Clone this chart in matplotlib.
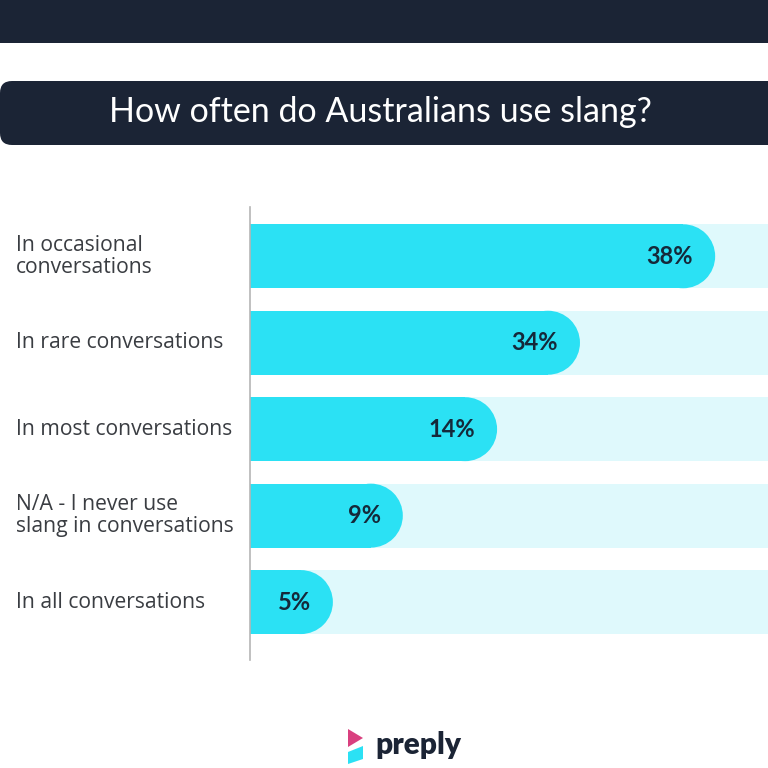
import matplotlib
matplotlib.use("Agg")
import matplotlib.pyplot as plt
from matplotlib.patches import FancyBboxPatch, Rectangle, Polygon, Ellipse
from matplotlib.transforms import blended_transform_factory

# ---- data ----
title = "How often do Australians use slang?"
categories = [
    "In occasional\nconversations",
    "In rare conversations",
    "In most conversations",
    "N/A - I never use\nslang in conversations",
    "In all conversations",
]
values = [38, 34, 14, 9, 5]
# displayed bar length (% of the bar track)
bar_lengths = [89.8, 63.7, 47.7, 29.5, 16.0]
value_labels = [f"{v}%" for v in values]

# ---- style ----
NAVY = "#1b2435"
CYAN = "#2be1f4"
LIGHT = "#dff9fc"
TXT = "#3a3d42"
VAL = "#15293a"
FONT = "Lato"
LFONT = "Open Sans"

W = H = 768
fig = plt.figure(figsize=(W / 100, H / 100), dpi=100)
fig.patch.set_facecolor("white")

def fx(px):
    return px / W

def fy(py):
    return 1 - py / H

# top band
fig.patches.append(Rectangle((0, fy(43)), 1, 43 / H, transform=fig.transFigure,
                             facecolor=NAVY, edgecolor="none", zorder=0))
# title box
fig.patches.append(FancyBboxPatch((fx(0), fy(145)), fx(820), 64 / H,
                                  boxstyle=f"round,pad=0,rounding_size={12 / W}",
                                  transform=fig.transFigure, facecolor=NAVY,
                                  edgecolor="none", zorder=0))
fig.text(fx(380), fy(112), title, color="white", fontsize=24.5, family=FONT,
         ha="center", va="center")

# axes for bars
ax = fig.add_axes([fx(250), fy(660), fx(768) - fx(250), (660 - 207) / H])
n = len(categories)
ax.set_xlim(0, 100)
ax.set_ylim(n - 1 + 0.67, -0.57)
ax.set_facecolor("none")
for s in ["top", "right", "bottom"]:
    ax.spines[s].set_visible(False)
ax.spines["left"].set_color("#b5b5b5")
ax.spines["left"].set_linewidth(1.2)
ax.set_xticks([])
ax.set_yticks([])

bh = 0.74
ypos = list(range(n))
ax.barh(ypos, [100] * n, height=bh, color=LIGHT, zorder=1)

p0 = ax.transData.transform((0, 0))
p1 = ax.transData.transform((1, 1))
sx = p1[0] - p0[0]
sy = abs(p1[1] - p0[1])
r = (bh * sy / 2) / sx  # radius of the round end, in x units

ax.barh(ypos, [L - r for L in bar_lengths], height=bh, color=CYAN,
        edgecolor="none", zorder=2)
for y, L in zip(ypos, bar_lengths):
    ax.add_patch(Ellipse((L - r, y), 2 * r, bh, facecolor=CYAN,
                         edgecolor="none", zorder=2))

for y, L, lab in zip(ypos, bar_lengths, value_labels):
    ax.annotate(lab, (L, y), xytext=(-16, 0), textcoords="offset points",
                ha="right", va="center", fontsize=17, fontweight="bold",
                color=VAL, family=FONT, zorder=3)

tr = blended_transform_factory(fig.transFigure, ax.transData)
for y, cat in zip(ypos, categories):
    ax.text(fx(16), y, cat, transform=tr, ha="left", va="center",
            fontsize=15.2, color=TXT, family=LFONT, linespacing=1.08)

# logo
fig.patches.append(Polygon([(fx(348), fy(729)), (fx(363), fy(738)), (fx(348), fy(747))],
                           closed=True, transform=fig.transFigure,
                           facecolor="#d9407f", edgecolor="none"))
fig.patches.append(Polygon([(fx(348), fy(752)), (fx(363), fy(746)), (fx(363), fy(759)), (fx(348), fy(764))],
                           closed=True, transform=fig.transFigure,
                           facecolor="#2be1f4", edgecolor="none"))
fig.text(fx(375), fy(745), "preply", color="#1b2435", fontsize=21.5,
         fontweight="heavy", family=FONT, ha="left", va="center")

fig.savefig("out.png", dpi=100, facecolor="white")
